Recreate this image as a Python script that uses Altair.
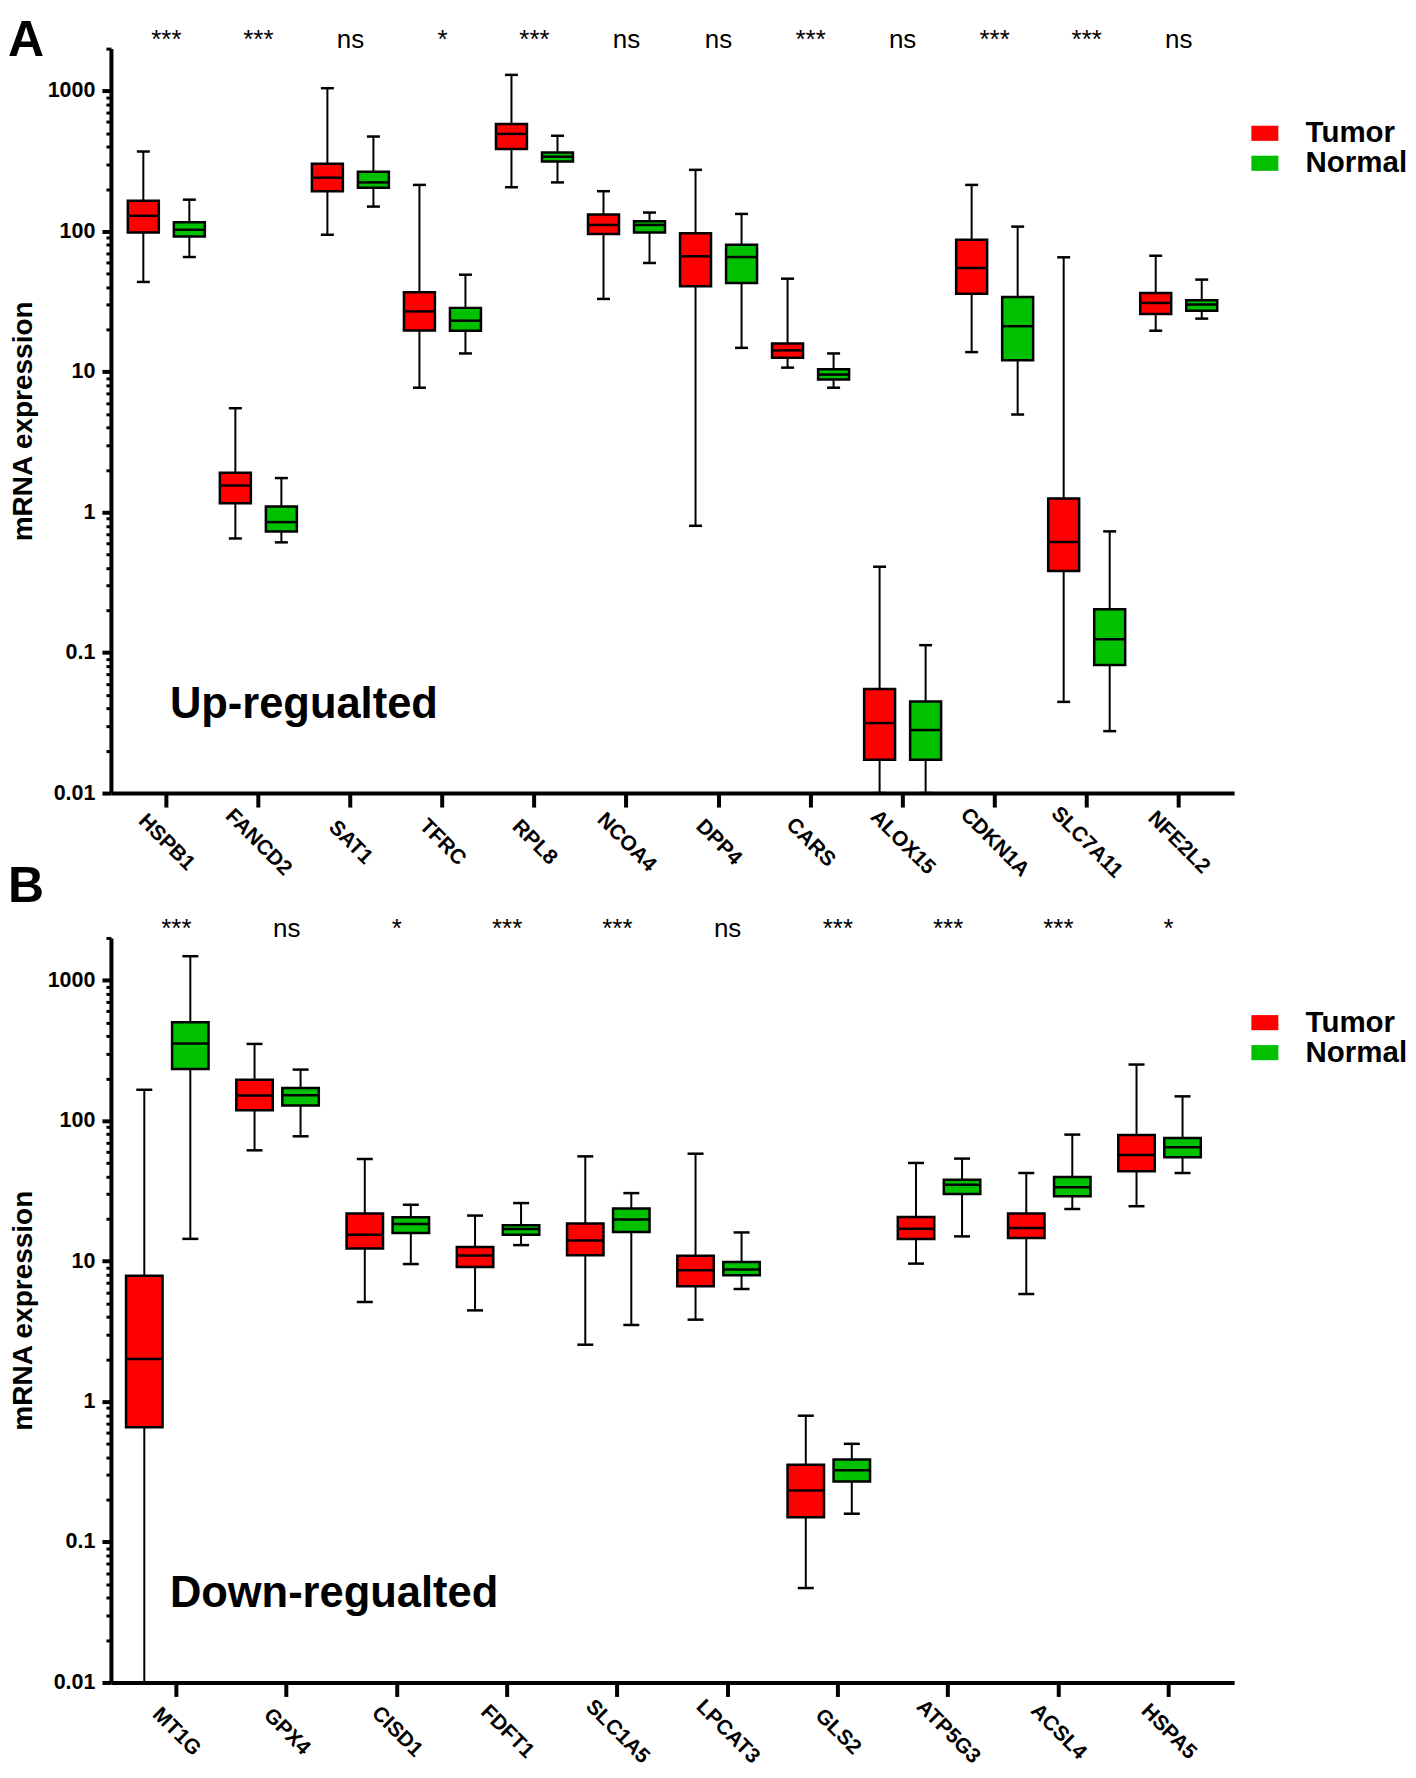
import altair as alt
import pandas as pd

GROUPS = ["Tumor", "Normal"]
COLORS = ["#FF0000", "#00C000"]

# ---------------- Panel A (up-regulated) ----------------
genes_a = ["HSPB1", "FANCD2", "SAT1", "TFRC", "RPL8", "NCOA4", "DPP4", "CARS",
           "ALOX15", "CDKN1A", "SLC7A11", "NFE2L2"]
sig_a = ["***", "***", "ns", "*", "***", "ns", "ns", "***", "ns", "***", "***", "ns"]
# (min, q1, median, q3, max)
tumor_a = [
    (43.6, 98, 129, 165, 370),
    (0.65, 1.16, 1.55, 1.91, 5.5),
    (94.5, 193, 241, 303, 1045),
    (7.7, 19.7, 26.9, 36.8, 214),
    (206, 385, 494, 582, 1300),
    (33, 95.7, 111, 132, 193),
    (0.80, 40.6, 66.4, 97, 274),
    (10.7, 12.6, 14.2, 15.9, 46),
    (0.01, 0.0173, 0.0315, 0.055, 0.409),
    (13.8, 36, 54.8, 87, 214),
    (0.0446, 0.381, 0.613, 1.25, 65.3),
    (19.6, 25.8, 30.9, 36.4, 67),
]
normal_a = [
    (65.6, 92, 102.6, 116, 168),
    (0.61, 0.73, 0.85, 1.1, 1.75),
    (150, 204, 223, 266, 473),
    (13.5, 19.6, 23.1, 28.5, 49.1),
    (223, 314, 340, 364, 479),
    (59.5, 98.2, 111, 118, 136),
    (14.8, 42.9, 65.6, 80.3, 133),
    (7.7, 8.8, 9.55, 10.4, 13.5),
    (0.01, 0.0173, 0.0281, 0.0449, 0.113),
    (4.96, 12.1, 21.1, 34.1, 108),
    (0.0276, 0.0818, 0.1245, 0.2035, 0.73),
    (23.9, 27.2, 30.1, 32.3, 45.3),
]

# ---------------- Panel B (down-regulated) ----------------
genes_b = ["MT1G", "GPX4", "CISD1", "FDFT1", "SLC1A5", "LPCAT3", "GLS2",
           "ATP5G3", "ACSL4", "HSPA5"]
sig_b = ["***", "ns", "*", "***", "***", "ns", "***", "***", "***", "*"]
tumor_b = [
    (0.01, 0.655, 2.01, 7.88, 166),
    (61.5, 118.6, 151, 196, 352),
    (5.12, 12.3, 15.4, 21.8, 53.3),
    (4.46, 9.08, 10.95, 12.6, 21.1),
    (2.54, 11, 14, 18.5, 55.7),
    (3.83, 6.62, 8.6, 10.9, 58.2),
    (0.047, 0.15, 0.233, 0.355, 0.793),
    (9.6, 14.4, 17, 20.6, 50),
    (5.83, 14.6, 17.2, 21.8, 42.4),
    (24.6, 43.6, 57, 79, 251),
]
normal_b = [
    (14.4, 233, 354, 502, 1483),
    (77.4, 128, 151.7, 171, 231),
    (9.53, 15.85, 18.4, 20.5, 25.2),
    (13, 15.4, 16.9, 18, 25.9),
    (3.51, 16.1, 19.8, 23.7, 30.5),
    (6.33, 7.92, 8.7, 9.86, 16),
    (0.159, 0.27, 0.324, 0.386, 0.5),
    (15, 30.1, 35, 38, 53.7),
    (23.5, 29, 33.6, 39.7, 79.6),
    (42.4, 55, 64.7, 75.3, 149),
]

major_ticks = [0.01, 0.1, 1, 10, 100, 1000]
minor_ticks = [m * 10.0 ** e for e in range(-2, 3) for m in range(2, 10)] + [2000]

FONT = "Liberation Sans"
W, H = 1124, 745


def panel(genes, sig, tumor, normal, letter, letter_y, label, pad_outer, box_w, cap_w):
    rows = []
    for g, t, n in zip(genes, tumor, normal):
        for grp, v in zip(GROUPS, (t, n)):
            rows.append(dict(gene=g, group=grp, lo=v[0], q1=v[1], med=v[2], q3=v[3], hi=v[4]))
    df = pd.DataFrame(rows)
    sig_df = pd.DataFrame({"gene": genes, "sig": sig})

    yscale = alt.Scale(type="log", domain=[0.01, 2000], nice=False)
    xenc = alt.X(
        "gene:N", sort=genes, title=None,
        scale=alt.Scale(paddingInner=0, paddingOuter=pad_outer),
        axis=alt.Axis(labelAngle=45, labelAlign="center", labelBaseline="middle",
                      labelPadding=35, tickSize=14, tickWidth=4, tickColor="black",
                      domainWidth=4, domainColor="black", labelFontSize=21,
                      labelFontWeight="bold", labelColor="black", labelFont=FONT,
                      grid=False, labelOverlap=False, labelLimit=300),
    )
    xo = alt.XOffset("group:N", sort=GROUPS,
                     scale=alt.Scale(domain=GROUPS, paddingInner=0, paddingOuter=0))

    base = alt.Chart(df)

    minor = base.mark_rule(opacity=0).encode(
        x=xenc, xOffset=xo,
        y=alt.Y("lo:Q", scale=yscale,
                axis=alt.Axis(values=minor_ticks, orient="left", labels=False, domain=False,
                              tickSize=5, tickWidth=3, tickColor="black", grid=False, title=None)),
    )
    whisk = base.mark_rule(color="black", strokeWidth=2).encode(
        x=xenc, xOffset=xo,
        y=alt.Y("lo:Q", scale=yscale,
                axis=alt.Axis(values=major_ticks, format="~g", orient="left", tickSize=9,
                              tickWidth=4, tickColor="black", domainWidth=4, domainColor="black",
                              labelFontSize=21.5, labelFontWeight="bold", labelColor="black",
                              labelFont=FONT, labelPadding=7, labelFlush=False, grid=False,
                              title="mRNA expression", titleFontSize=28, titleFontWeight="bold",
                              titleFont=FONT, titleColor="black", titlePadding=10)),
        y2="hi:Q",
    )
    box = base.mark_bar(size=box_w, stroke="black", strokeWidth=2.5, opacity=1).encode(
        x=xenc, xOffset=xo,
        y=alt.Y("q1:Q", scale=yscale, axis=None), y2="q3:Q",
        fill=alt.Fill("group:N", sort=GROUPS,
                      scale=alt.Scale(domain=GROUPS, range=COLORS),
                      legend=alt.Legend(orient="none", legendX=1140, legendY=70, title=None,
                                        symbolType="M-1,-0.56H1V0.56H-1Z", symbolSize=729,
                                        symbolStrokeWidth=0, symbolOpacity=1,
                                        labelFontSize=29.5, labelFontWeight="bold",
                                        labelFont=FONT, labelColor="black", labelOffset=26,
                                        rowPadding=-1, padding=0, labelLimit=400)),
    )
    med = base.mark_tick(size=box_w, thickness=2.5, color="black", opacity=1).encode(
        x=xenc, xOffset=xo, y=alt.Y("med:Q", scale=yscale, axis=None))
    cap_lo = base.mark_tick(size=cap_w, thickness=2.5, color="black", opacity=1).encode(
        x=xenc, xOffset=xo, y=alt.Y("lo:Q", scale=yscale, axis=None))
    cap_hi = base.mark_tick(size=cap_w, thickness=2.5, color="black", opacity=1).encode(
        x=xenc, xOffset=xo, y=alt.Y("hi:Q", scale=yscale, axis=None))

    sig_txt = alt.Chart(sig_df).mark_text(fontSize=26, font=FONT, baseline="alphabetic",
                                          align="center", color="black").encode(
        x=xenc, y=alt.value(-1), text="sig:N")

    letter_txt = alt.Chart(pd.DataFrame({"t": [letter]})).mark_text(
        fontSize=50, fontWeight="bold", font=FONT, align="left", baseline="top",
        color="black").encode(x=alt.value(-103), y=alt.value(letter_y), text="t:N")

    # invisible spacer that reserves the top margin above the panel letter
    spacer = alt.Chart(pd.DataFrame({"t": [letter]})).mark_rule(
        opacity=0, strokeWidth=1).encode(
        x=alt.value(-60), x2=alt.value(-59), y=alt.value(-40), y2=alt.value(-39))

    label_txt = alt.Chart(pd.DataFrame({"t": [label]})).mark_text(
        fontSize=43.5, fontWeight="bold", font=FONT, align="left", baseline="alphabetic",
        color="black").encode(x=alt.value(59), y=alt.value(670), text="t:N")

    return alt.layer(minor, whisk, box, med, cap_lo, cap_hi, sig_txt, spacer, letter_txt,
                     label_txt).resolve_axis(y="independent").properties(width=W, height=H)


pa = panel(genes_a, sig_a, tumor_a, normal_a, "A", -33, "Up-regualted", 0.102, 31, 13)
pb = panel(genes_b, sig_b, tumor_b, normal_b, "B", -76, "Down-regualted", 0.094, 36.5, 16)

chart = alt.vconcat(pa, pb, spacing=145, bounds="flush").resolve_scale(
    fill="independent").properties(padding=0).configure_view(stroke=None)

chart.save("out.html", embed_options={"renderer": "svg", "actions": False})
